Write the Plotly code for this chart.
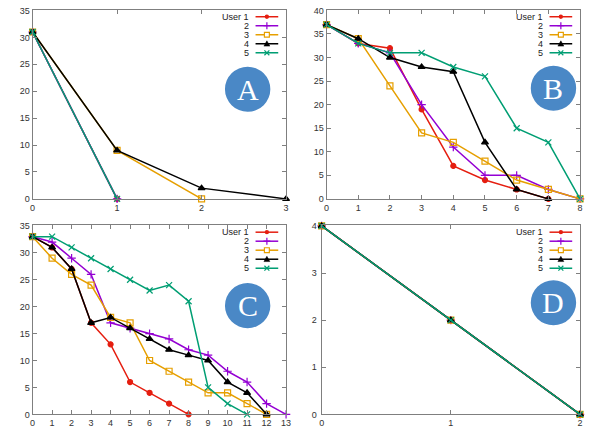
import plotly.graph_objects as go

# ---------------- data ----------------
user_names = ["User 1", "2", "3", "4", "5"]
user_colors = ["#e51e10", "#9400d3", "#e69f00", "#000000", "#009e73"]
user_symbols = ["circle", "cross-thin", "square-open", "triangle-up", "x-thin"]

# Panel A (x = step index)
a_user1 = [31, 0]
a_user2 = [31, 0]
a_user3 = [31, 9, 0]
a_user4 = [31, 9, 2, 0]
a_user5 = [31, 0]

# Panel B
b_user1 = [37, 33, 32, 19, 7, 4, 2, 0]
b_user2 = [37, 33, 31, 20, 11, 5, 5, 2, 0]
b_user3 = [37, 34, 24, 14, 12, 8, 4, 2, 0]
b_user4 = [37, 34, 30, 28, 27, 12, 2, 0]
b_user5 = [37, 33, 31, 31, 28, 26, 15, 12, 0]

# Panel C
c_user1 = [33, 31, 27, 17, 13, 6, 4, 2, 0]
c_user2 = [33, 32, 29, 26, 17, 16, 15, 14, 12, 11, 8, 6, 2, 0]
c_user3 = [33, 29, 26, 24, 18, 17, 10, 8, 6, 4, 4, 2, 0]
c_user4 = [33, 31, 27, 17, 18, 16, 14, 12, 11, 10, 6, 4, 0]
c_user5 = [33, 33, 31, 29, 27, 25, 23, 24, 21, 5, 2, 0]

# Panel D
d_user1 = [4, 2, 0]
d_user2 = [4, 2, 0]
d_user3 = [4, 2, 0]
d_user4 = [4, 2, 0]
d_user5 = [4, 2, 0]

panel_labels = ["A", "B", "C", "D"]
panel_x_max = [3, 8, 13, 2]
panel_y_max = [35, 40, 35, 4]
panel_y_dtick = [5, 5, 5, 1]

panels = [
    [a_user1, a_user2, a_user3, a_user4, a_user5],
    [b_user1, b_user2, b_user3, b_user4, b_user5],
    [c_user1, c_user2, c_user3, c_user4, c_user5],
    [d_user1, d_user2, d_user3, d_user4, d_user5],
]

# ---------------- layout geometry (pixels) ----------------
W, H = 592, 436
# (left, right, top, bottom) in pixels
boxes = [
    (30, 287, 6, 199),
    (328, 585, 6, 199),
    (30, 287, 226, 419),
    (323, 585, 226, 419),
]
circle_centers = [(248, 87), (558, 86), (248, 308), (558, 305)]
circle_r = 23


def px(xp):
    return xp / W


def py(yp):
    return 1 - yp / H


def legend_marker_shapes(kind, cx, cy, color):
    out = []
    if kind == 0:  # filled circle
        r = 2.2
        out.append(dict(type="circle", xref="paper", yref="paper",
                        x0=px(cx - r), x1=px(cx + r), y0=py(cy + r), y1=py(cy - r),
                        fillcolor=color, line=dict(color=color, width=0)))
    elif kind == 1:  # plus
        s = 3.5
        path = (f"M{px(cx - s)},{py(cy)} L{px(cx + s)},{py(cy)} "
                f"M{px(cx)},{py(cy - s)} L{px(cx)},{py(cy + s)}")
        out.append(dict(type="path", xref="paper", yref="paper", path=path,
                        line=dict(color=color, width=1.2)))
    elif kind == 2:  # open square
        s = 2.5
        out.append(dict(type="rect", xref="paper", yref="paper",
                        x0=px(cx - s), x1=px(cx + s), y0=py(cy + s), y1=py(cy - s),
                        fillcolor="white", line=dict(color=color, width=1.2)))
    elif kind == 3:  # filled triangle
        s = 3
        path = (f"M{px(cx - s)},{py(cy + s * 0.8)} L{px(cx + s)},{py(cy + s * 0.8)} "
                f"L{px(cx)},{py(cy - s)} Z")
        out.append(dict(type="path", xref="paper", yref="paper", path=path,
                        fillcolor=color, line=dict(color=color, width=0.5)))
    else:  # x
        s = 2.5
        path = (f"M{px(cx - s)},{py(cy - s)} L{px(cx + s)},{py(cy + s)} "
                f"M{px(cx - s)},{py(cy + s)} L{px(cx + s)},{py(cy - s)}")
        out.append(dict(type="path", xref="paper", yref="paper", path=path,
                        line=dict(color=color, width=1.2)))
    return out


fig = go.Figure()
layout = dict(
    width=W, height=H,
    margin=dict(l=0, r=0, t=0, b=0),
    paper_bgcolor="white", plot_bgcolor="white",
    font=dict(family="Liberation Sans, Arial, sans-serif", size=9, color="#333333"),
    shapes=[], annotations=[],
    showlegend=False,
)

for p, series in enumerate(panels):
    ax_suffix = "" if p == 0 else str(p + 1)
    xref = "x" + ax_suffix
    yref = "y" + ax_suffix
    for u, vals in enumerate(series):
        fig.add_trace(go.Scatter(
            x=list(range(len(vals))), y=vals,
            mode="lines+markers",
            name=user_names[u],
            line=dict(color=user_colors[u], width=1.5),
            marker=dict(symbol=user_symbols[u], size=6 if u != 0 else 5,
                        color=user_colors[u],
                        line=dict(color=user_colors[u], width=1.2)),
            xaxis=xref, yaxis=yref,
            cliponaxis=False,
        ))
    l, r, t, b = boxes[p]
    dom_x = [l / W, r / W]
    dom_y = [1 - b / H, 1 - t / H]
    common = dict(showline=True, mirror="ticks", linecolor="#7f7f7f", linewidth=1,
                  ticks="inside", ticklen=4, tickcolor="#7f7f7f",
                  showgrid=False, zeroline=False, ticklabeloverflow="allow",
                  tickfont=dict(size=9, color="#333333"))
    xm = panel_x_max[p]
    ym = panel_y_max[p]
    xticks = list(range(0, xm + 1))
    yticks = list(range(0, ym + 1, panel_y_dtick[p]))
    layout["xaxis" + ax_suffix] = dict(
        domain=dom_x, range=[0, xm * 1.0002],
        tickmode="array", tickvals=xticks, ticktext=[str(v) for v in xticks],
        anchor=yref, **common)
    layout["yaxis" + ax_suffix] = dict(
        domain=dom_y, range=[0, ym * 1.003],
        tickmode="array", tickvals=yticks, ticktext=[str(v) for v in yticks],
        anchor=xref, **common)

    # manual gnuplot-style key: text on the left, sample on the right
    for u in range(len(series)):
        ry = t + 7 + 9.2 * u
        layout["annotations"].append(dict(
            x=px(r - 37), y=py(ry), xref="paper", yref="paper",
            text=user_names[u], showarrow=False, xanchor="right", yanchor="middle",
            borderpad=0,
            font=dict(size=9, color="#222222"),
        ))
        layout["shapes"].append(dict(
            type="line", xref="paper", yref="paper",
            x0=px(r - 31), x1=px(r - 8), y0=py(ry), y1=py(ry),
            line=dict(color=user_colors[u], width=1.5),
        ))
        layout["shapes"].extend(legend_marker_shapes(u, r - 19.5, ry, user_colors[u]))

    cx, cy = circle_centers[p]
    layout["shapes"].append(dict(
        type="circle", xref="paper", yref="paper",
        x0=px(cx - circle_r), x1=px(cx + circle_r),
        y0=py(cy + circle_r), y1=py(cy - circle_r),
        fillcolor="#4a88c6", line=dict(color="#4a88c6", width=0),
    ))
    layout["annotations"].append(dict(
        x=px(cx), y=py(cy), xref="paper", yref="paper",
        text=panel_labels[p], showarrow=False,
        font=dict(family="Liberation Serif, DejaVu Serif, serif", size=30, color="white"),
        xanchor="center", yanchor="middle",
    ))

# panel D's y-axis: keep the label of the top tick on the axis itself
layout["yaxis4"]["range"] = [0, panel_y_max[3] * 1.003]
layout["yaxis4"]["ticklabelposition"] = "outside"
layout["yaxis4"]["ticklabelstandoff"] = 2

fig.update_layout(**layout)
fig.write_html("out.html",
               config={"displayModeBar": False},
               post_script="document.body.style.margin='0';document.body.style.overflow='hidden';")
